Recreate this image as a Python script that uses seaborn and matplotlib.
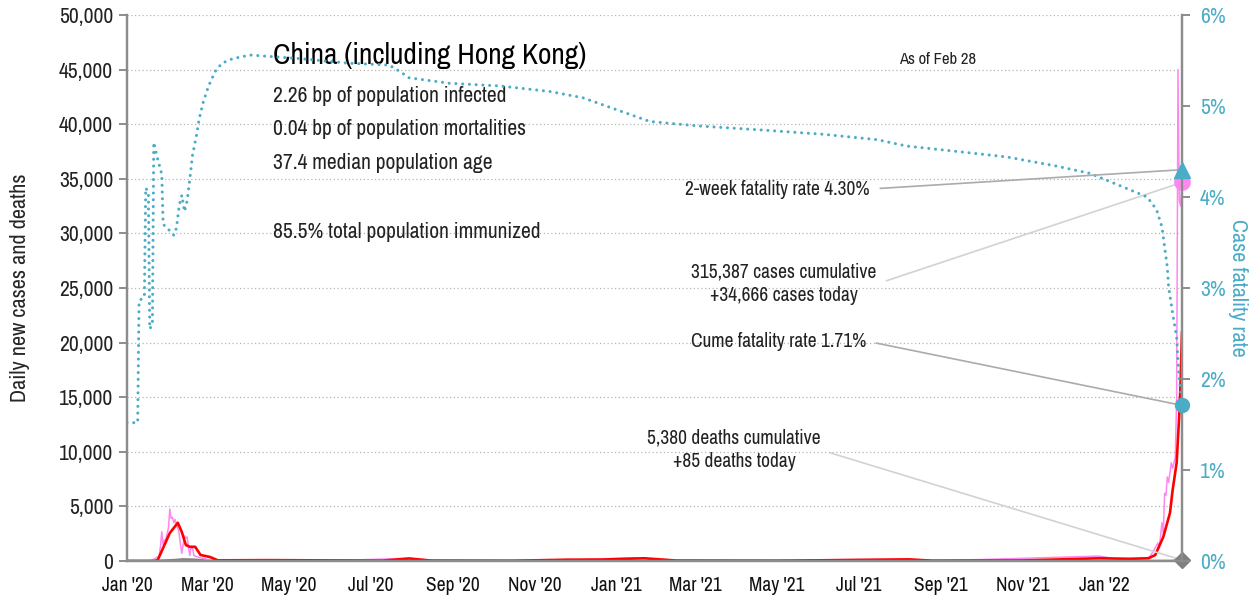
import matplotlib
matplotlib.use('Agg')
import matplotlib.pyplot as plt
import matplotlib.dates as mdates
from matplotlib import font_manager
from matplotlib.ticker import FuncFormatter, MultipleLocator
import pandas as pd
import seaborn as sns

# daily new cases (pink)
case_dates = ['2020-01-01', '2020-01-18', '2020-01-21', '2020-01-25', '2020-01-26', '2020-01-27',
              '2020-01-28', '2020-01-29', '2020-01-30', '2020-02-01', '2020-02-02', '2020-02-03',
              '2020-02-04', '2020-02-05', '2020-02-06', '2020-02-07', '2020-02-08', '2020-02-09',
              '2020-02-10', '2020-02-11', '2020-02-13', '2020-02-14', '2020-02-15', '2020-02-16',
              '2020-02-17', '2020-02-18', '2020-02-19', '2020-02-20', '2020-02-22', '2020-02-25',
              '2020-03-01', '2020-03-11', '2020-04-15', '2020-06-01', '2020-07-30', '2020-08-20',
              '2020-12-01', '2021-01-15', '2021-02-10', '2021-08-05', '2021-09-01', '2021-12-28',
              '2022-01-10', '2022-02-01', '2022-02-04', '2022-02-07', '2022-02-10', '2022-02-11',
              '2022-02-13', '2022-02-14', '2022-02-15', '2022-02-16', '2022-02-17', '2022-02-18',
              '2022-02-20', '2022-02-21', '2022-02-23', '2022-02-24', '2022-02-25', '2022-02-26',
              '2022-02-27', '2022-02-28']
case_values = [0, 0, 150, 450, 1300, 2680,
               1500, 1900, 2000, 3000, 4760, 3900,
               4000, 3500, 3800, 3300, 3000, 2500,
               1500, 700, 2300, 2100, 2200, 1200,
               500, 1300, 1200, 500, 400, 300,
               150, 80, 100, 30, 250, 30,
               100, 300, 40, 150, 30, 450,
               200, 250, 400, 1000, 1650, 1200,
               3500, 2500, 6200, 6000, 7700, 7200,
               9000, 8500, 9500, 15000, 45000, 33000,
               32500, 34666]

# 7-day average of new cases (red)
avg_dates = ['2020-01-01', '2020-01-22', '2020-01-24', '2020-01-29', '2020-02-02', '2020-02-08',
             '2020-02-11', '2020-02-14', '2020-02-17', '2020-02-21', '2020-02-25', '2020-03-03',
             '2020-03-09', '2020-04-15', '2020-05-20', '2020-07-10', '2020-07-30', '2020-08-15',
             '2020-10-15', '2020-11-25', '2020-12-20', '2021-01-22', '2021-02-15', '2021-05-01',
             '2021-08-08', '2021-08-25', '2021-11-01', '2021-12-28', '2022-01-20', '2022-02-03',
             '2022-02-08', '2022-02-14', '2022-02-19', '2022-02-21', '2022-02-24', '2022-02-26',
             '2022-02-27', '2022-02-28']
avg_values = [0, 0, 100, 1465, 2560, 3500,
              2650, 1470, 1300, 1300, 550, 370,
              60, 80, 60, 30, 230, 40,
              20, 120, 130, 250, 40, 20,
              150, 30, 50, 250, 200, 250,
              550, 2200, 4400, 6500, 9000, 13500,
              16600, 21000]

# daily new deaths (grey)
death_dates = ['2020-01-01', '2020-01-20', '2020-01-28', '2020-02-05', '2020-02-12', '2020-02-20',
               '2020-03-01', '2020-03-20', '2020-04-17', '2022-02-20', '2022-02-28']
death_values = [0, 0, 40, 80, 150, 120, 40, 10, 0, 0, 85]

# cumulative case fatality rate, % (teal dotted)
cfr_dates = ['2020-01-01', '2020-01-09', '2020-01-10', '2020-01-14', '2020-01-15', '2020-01-17',
             '2020-01-18', '2020-01-20', '2020-01-21', '2020-01-23', '2020-01-25', '2020-01-27',
             '2020-01-28', '2020-01-31', '2020-02-05', '2020-02-07', '2020-02-09', '2020-02-11',
             '2020-02-13', '2020-02-15', '2020-02-17', '2020-02-19', '2020-02-22', '2020-02-24',
             '2020-02-27', '2020-03-02', '2020-03-07', '2020-03-12', '2020-03-20', '2020-04-02',
             '2020-05-10', '2020-06-15', '2020-07-15', '2020-07-23', '2020-07-30', '2020-08-29',
             '2020-10-06', '2020-11-12', '2020-12-07', '2021-01-01', '2021-01-26', '2021-03-04',
             '2021-04-16', '2021-06-04', '2021-07-15', '2021-08-06', '2021-09-13', '2021-10-20',
             '2021-11-26', '2021-12-21', '2022-01-15', '2022-02-02', '2022-02-09', '2022-02-13',
             '2022-02-15', '2022-02-17', '2022-02-18', '2022-02-21', '2022-02-24', '2022-02-25',
             '2022-02-26', '2022-02-27', '2022-02-28']
cfr_values = [1.52, 1.52, 2.86, 2.90, 4.10, 4.05,
              2.55, 2.60, 4.60, 4.47, 4.36, 4.25,
              3.70, 3.66, 3.58, 3.66, 3.90, 4.02,
              3.84, 3.96, 4.20, 4.46, 4.68, 4.86,
              5.04, 5.22, 5.38, 5.47, 5.52, 5.56,
              5.52, 5.47, 5.45, 5.38, 5.31, 5.25,
              5.22, 5.16, 5.09, 4.96, 4.83, 4.78,
              4.74, 4.69, 4.63, 4.56, 4.50, 4.44,
              4.34, 4.26, 4.11, 4.00, 3.86, 3.67,
              3.45, 3.23, 3.01, 2.72, 2.46, 2.20,
              2.00, 1.85, 1.71]

FORTNIGHT_CFR = 4.30
TITLE = 'China (including Hong Kong)'
STATS = ['2.26 bp of population infected', '0.04 bp of population mortalities',
         '37.4 median population age', '85.5% total population immunized']

PINK = '#ff88ee'
RED = '#ff0000'
GREY = '#808080'
TEAL = '#4bacc6'
AXIS_GREY = '#8c8c8c'


def frame(dates, values):
    return pd.DataFrame({'date': pd.to_datetime(dates), 'value': values})


sns.set_theme(style='white')
# narrow face if one is around, otherwise fall back to plain DejaVu
narrow = [f.name for f in font_manager.fontManager.ttflist
          if f.stretch in ('condensed', 'semi-condensed', 'extra-condensed')
          or 'Narrow' in f.name or 'Condensed' in f.name]
plt.rcParams['font.family'] = sorted(set(narrow)) + ['DejaVu Sans']
plt.rcParams['font.stretch'] = 'condensed'
plt.rcParams['text.color'] = '#222222'

fig = plt.figure(figsize=(12.55, 6.02), dpi=100)
ax = fig.add_axes([127 / 1255, 41 / 602, 1055 / 1255, 546 / 602])
ax2 = ax.twinx()

sns.lineplot(data=frame(death_dates, death_values), x='date', y='value', ax=ax,
             color=GREY, lw=1.8)
sns.lineplot(data=frame(case_dates, case_values), x='date', y='value', ax=ax,
             color=PINK, lw=1.1)
sns.lineplot(data=frame(avg_dates, avg_values), x='date', y='value', ax=ax,
             color=RED, lw=1.9)
sns.lineplot(data=frame(cfr_dates, cfr_values), x='date', y='value', ax=ax2,
             color=TEAL, lw=2.2, linestyle=(0, (0.01, 2.2)), dash_capstyle='round')

start, end = pd.Timestamp('2020-01-01'), pd.Timestamp(case_dates[-1])
ax.set_xlim(start, end)
ax.set_ylim(0, 50000)
ax2.set_ylim(0, 6)

ax.xaxis.set_major_locator(mdates.MonthLocator(bymonth=[1, 3, 5, 7, 9, 11]))
ax.xaxis.set_major_formatter(mdates.DateFormatter("%b '%y"))
ax.yaxis.set_major_locator(MultipleLocator(5000))
ax.yaxis.set_major_formatter(FuncFormatter(lambda v, _: f'{v:,.0f}'))
ax2.yaxis.set_major_locator(MultipleLocator(1))
ax2.yaxis.set_major_formatter(FuncFormatter(lambda v, _: f'{v:.0f}%'))

ax.yaxis.grid(True, linestyle=(0, (1, 2)), color='#b5b5b5', lw=0.9)
ax.set_axisbelow(True)

for a in (ax, ax2):
    a.spines['top'].set_visible(False)
    for side in ('left', 'right', 'bottom'):
        a.spines[side].set_color(AXIS_GREY)
        a.spines[side].set_linewidth(1.6)
ax.tick_params(axis='y', length=6, width=1.4, color=AXIS_GREY, labelsize=15.5, pad=4,
               labelcolor='#222222')
ax.tick_params(axis='x', length=6, width=1.4, color=AXIS_GREY, labelsize=14, pad=5,
               labelcolor='#111111')
ax2.tick_params(axis='y', length=6, width=1.4, color=AXIS_GREY, labelsize=15.5, pad=7,
                labelcolor=TEAL)

ax.set_xlabel('')
ax.set_ylabel('Daily new cases and deaths', fontsize=16, va='center')
ax.yaxis.set_label_coords(-0.1014, 0.5)
ax2.set_ylabel('Case fatality rate', fontsize=16, color=TEAL, rotation=270, va='center')
ax2.yaxis.set_label_coords(1.0531, 0.5)

# end-of-series markers
end_num = mdates.date2num(end)
ax.plot(end_num, death_values[-1], marker='D', ms=8, color=GREY, clip_on=False, zorder=6)
ax.plot(end_num, case_values[-1], marker='o', ms=11, color=PINK, clip_on=False, zorder=6)
ax2.plot(end_num, FORTNIGHT_CFR, marker='^', ms=12, color=TEAL, clip_on=False, zorder=6)
ax2.plot(end_num, cfr_values[-1], marker='o', ms=10, color=TEAL, clip_on=False, zorder=6)

# headline text
ax.text(0.1384, 0.9267, TITLE, transform=ax.transAxes, fontsize=21.3, color='black',
        ha='left', va='center')
for y, line in zip([0.8516, 0.7912, 0.7289, 0.6026], STATS):
    ax.text(0.1384, y, line, transform=ax.transAxes, fontsize=15.5, ha='left', va='center')
ax.text(0.7687, 0.9176, 'As of Feb 28', transform=ax.transAxes, fontsize=12,
        ha='center', va='center')

# callouts
dark_link = dict(arrowstyle='-', color='#ababab', lw=1.2, shrinkA=5, shrinkB=0, relpos=(1, 0.5))
light_link = dict(arrowstyle='-', color='#d2d2d2', lw=1.2, shrinkA=5, shrinkB=0, relpos=(1, 0.5))
ax2.annotate(f'2-week fatality rate {FORTNIGHT_CFR:.2f}%', xy=(end_num, FORTNIGHT_CFR),
             xytext=(0.7043, 0.6813), textcoords='axes fraction', ha='right', va='center',
             fontsize=14, arrowprops=dark_link)
ax.annotate(f'315,387 cases cumulative\n+{case_values[-1]:,} cases today',
            xy=(end_num, case_values[-1]), xytext=(0.6227, 0.5073), textcoords='axes fraction',
            ha='center', va='center', fontsize=14, linespacing=1.3, arrowprops=light_link)
ax2.annotate(f'Cume fatality rate {cfr_values[-1]:.2f}%', xy=(end_num, cfr_values[-1]),
             xytext=(0.7005, 0.4029), textcoords='axes fraction', ha='right', va='center',
             fontsize=14, arrowprops=dark_link)
ax.annotate(f'5,380 deaths cumulative\n+{death_values[-1]} deaths today',
            xy=(end_num, death_values[-1]), xytext=(0.5754, 0.2033), textcoords='axes fraction',
            ha='center', va='center', fontsize=14, linespacing=1.3, arrowprops=light_link)

fig.savefig('out.png', dpi=100, facecolor='white')
